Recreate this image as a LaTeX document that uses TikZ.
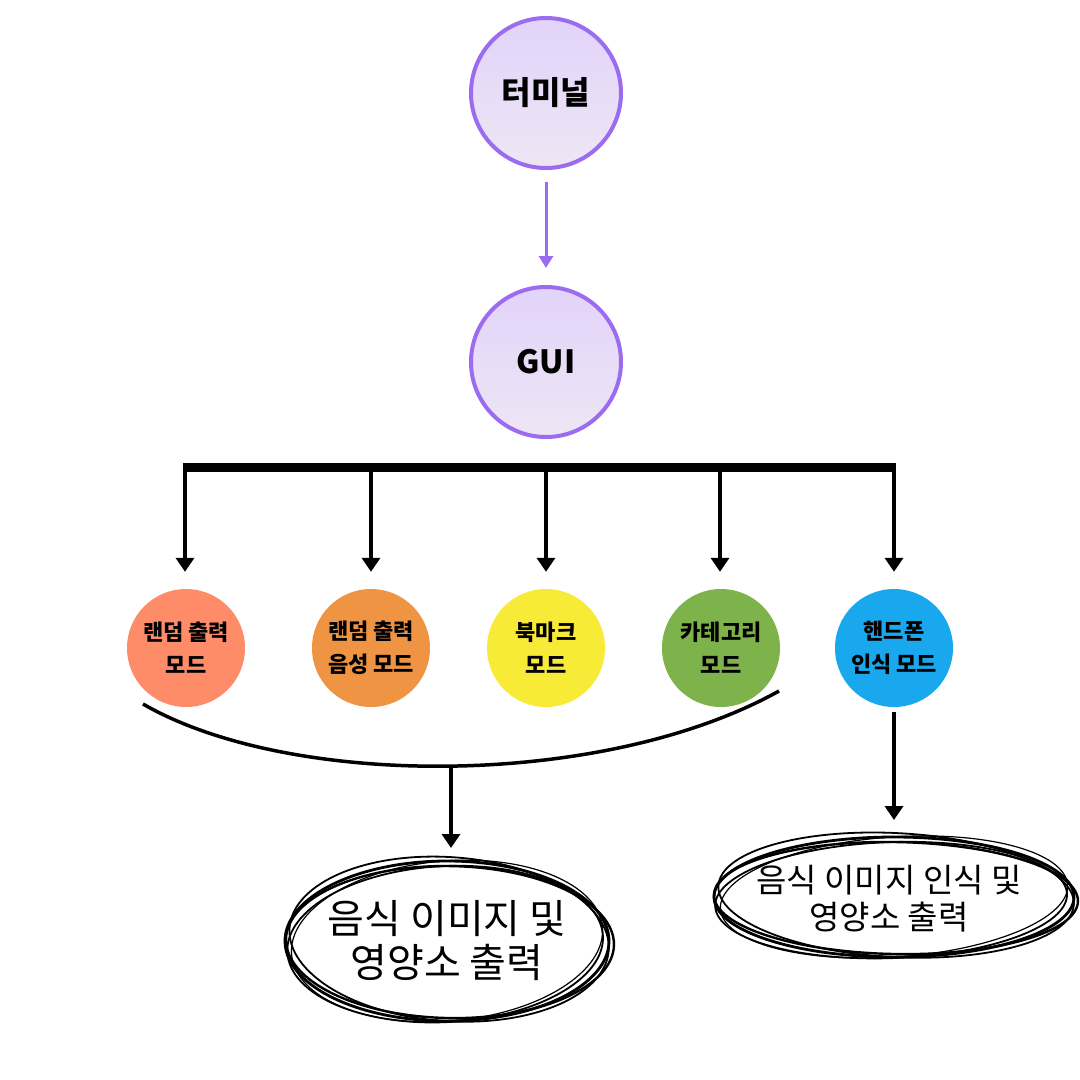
\documentclass[tikz,border=0pt]{standalone}
\usepackage{fontspec}
\setmainfont{Noto Sans CJK KR}
\usetikzlibrary{arrows.meta,shapes.geometric}
\definecolor{lav}{HTML}{9B6CF0}
\definecolor{lavtop}{HTML}{E2D3FA}
\definecolor{lavbot}{HTML}{EEE6F4}
\definecolor{csalmon}{HTML}{FF8C69}
\definecolor{corange}{HTML}{EF9443}
\definecolor{cyellow}{HTML}{F7EB38}
\definecolor{cgreen}{HTML}{7EB24A}
\definecolor{cblue}{HTML}{19A8EE}
\begin{document}
\begin{tikzpicture}[x=1pt,y=-1pt,
  topcirc/.style={circle,draw=lav,line width=4pt,top color=lavtop,bottom color=lavbot,
    minimum size=150pt,inner sep=0pt,font=\fontsize{32}{34}\selectfont\bfseries},
  modecirc/.style={circle,minimum size=118pt,inner sep=0pt,align=center,
    font=\fontsize{22}{33}\selectfont\bfseries},
  blk/.style={line width=4pt,-{Triangle[width=18pt,length=14pt]}},
  scrib/.style={line width=1.8pt}]
\useasboundingbox (0,0) rectangle (1080,1080);
\fill[white] (0,0) rectangle (1080,1080);

\node[topcirc] (term) at (546,93) {터미널};
\node[topcirc] (gui) at (546,362) {GUI};
\draw[lav,line width=3pt,-{Triangle[width=14pt,length=12pt]}] ([yshift=-12pt]term.south) -- ([yshift=17pt]gui.north);

% bus bar
\coordinate (b1) at (185,467);
\coordinate (b2) at (371,467);
\coordinate (b3) at (546,467);
\coordinate (b4) at (720,467);
\coordinate (b5) at (894,467);
\draw[line width=9pt] ([xshift=-2pt]b1) -- ([xshift=2pt]b5);

\node[modecirc,fill=csalmon] (m1) at (186,648) {랜덤 출력\\모드};
\node[modecirc,fill=corange] (m2) at (371,648) {랜덤 출력\\음성 모드};
\node[modecirc,fill=cyellow] (m3) at (546,648) {북마크\\모드};
\node[modecirc,fill=cgreen] (m4) at (721,648) {카테고리\\모드};
\node[modecirc,fill=cblue] (m5) at (894,648) {핸드폰\\인식 모드};

\draw[blk] (b1) -- ([yshift=17pt]m1.north -| b1);
\draw[blk] (b2) -- ([yshift=17pt]m2.north -| b2);
\draw[blk] (b3) -- ([yshift=17pt]m3.north -| b3);
\draw[blk] (b4) -- ([yshift=17pt]m4.north -| b4);
\draw[blk] (b5) -- ([yshift=17pt]m5.north -| b5);

% merge curve
\coordinate (cl) at (143,704);
\coordinate (cr) at (779,691);
\draw[line width=3.5pt] (cl) .. controls (290,789) and (603,789) .. (cr);
\coordinate (cm) at (451,765);
\coordinate (e1) at (451,848);

% left result
\node[font=\fontsize{40}{44}\selectfont,align=center] (res1) at (447,941) {음식 이미지 및\\영양소 출력};
\begin{scope}[shift={(447,941)}]
  \draw[scrib,line width=2.8pt] (0,0) ellipse [x radius=162pt,y radius=80pt];
  \draw[scrib,rotate=-4] (2,-2) ellipse [x radius=160pt,y radius=82pt];
  \draw[scrib,rotate=3] (-2,3) ellipse [x radius=158pt,y radius=78pt];
  \draw[scrib,line width=2.4pt,rotate=-1] (3,1) ellipse [x radius=164pt,y radius=76pt];
  \draw[scrib,line width=1.2pt,rotate=5] (0,0) ellipse [x radius=156pt,y radius=80pt];
\end{scope}
\draw[blk] (cm) -- (e1);

% right result
\node[font=\fontsize{33}{37}\selectfont,align=center] (res2) at (889,899) {음식 이미지 인식 및\\영양소 출력};
\begin{scope}[shift={(894,897)}]
  \draw[scrib,line width=2.8pt] (0,0) ellipse [x radius=180pt,y radius=60pt];
  \draw[scrib,rotate=-3] (2,-2) ellipse [x radius=178pt,y radius=62pt];
  \draw[scrib,rotate=2] (-3,3) ellipse [x radius=176pt,y radius=58pt];
  \draw[scrib,line width=2.4pt,rotate=-1] (2,1) ellipse [x radius=182pt,y radius=56pt];
  \draw[scrib,line width=1.2pt,rotate=4] (0,0) ellipse [x radius=174pt,y radius=60pt];
\end{scope}
\coordinate (e2) at (894,820);
\draw[blk] ([yshift=-5pt]m5.south) -- (e2);
\end{tikzpicture}
\end{document}
